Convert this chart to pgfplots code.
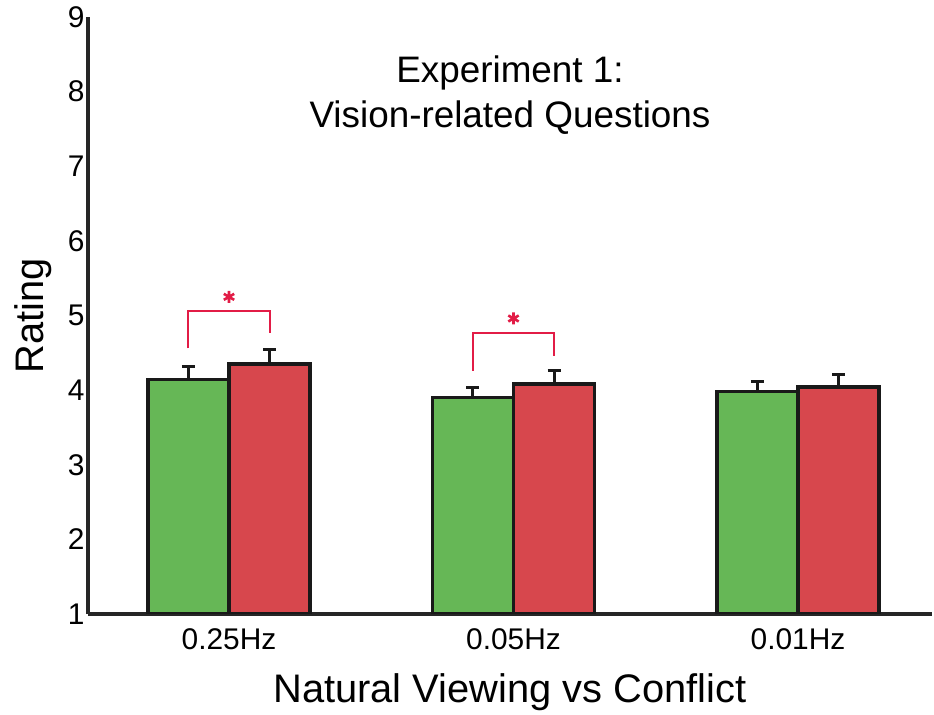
\documentclass[border=0pt]{standalone}
\usepackage{fontspec}
\setmainfont{Liberation Sans}
\usepackage{pgfplots}
\usepackage{pgfplotstable}
\pgfplotsset{compat=1.18}

\definecolor{natgreen}{RGB}{102,183,86}
\definecolor{confred}{RGB}{215,71,77}
\definecolor{sigred}{RGB}{226,28,70}

% mean rating and standard error per frequency
\pgfplotstableread{
x y err
0 4.14 0.18
1 3.90 0.14
2 3.98 0.14
}\natural
\pgfplotstableread{
x y err
0 4.35 0.19
1 4.08 0.18
2 4.04 0.17
}\conflict

\pgfplotsset{
    ratingbar/.style={ybar, bar width=81bp, bar shift=0pt, draw=black!90, line width=3.5bp,
        error bars/.cd, y dir=plus, y explicit,
        error bar style={line width=3bp, black!90},
        error mark options={rotate=90, line width=3bp, mark size=6.5bp, black!90},
        /pgfplots/.cd},
}

\begin{document}
\begin{tikzpicture}
\useasboundingbox (0,0) rectangle (934bp,715bp);
\begin{axis}[
    at={(88bp,101bp)}, anchor=south west,
    scale only axis, width=844bp, height=597bp,
    xmin=-0.4956, xmax=2.471, ymin=1, ymax=9,
    axis x line*=bottom, axis y line*=left,
    axis line style={line width=3bp, black!85},
    xtick={0,1,2}, xticklabels={0.25Hz,0.05Hz,0.01Hz},
    ytick={1,...,9},
    major tick length=0pt,
    tick label style={font=\fontsize{30}{34}\selectfont},
    /pgf/number format/assume math mode=true,
    xticklabel style={yshift=-11bp},
    xlabel={Natural Viewing vs Conflict},
    ylabel={Rating},
    label style={font=\fontsize{40}{46}\selectfont},
    xlabel style={at={(axis description cs:0.5,-0.149)}, anchor=base},
    ylabel style={at={(axis description cs:-0.0533,0.5)}, anchor=base},
]
\addplot[fill=natgreen, ratingbar]
    table[x expr=\thisrow{x}-0.1424, y=y, y error=err] {\natural};
\addplot[fill=confred, ratingbar]
    table[x expr=\thisrow{x}+0.1424, y=y, y error=err] {\conflict};

% significance brackets
\addplot[sigred, line width=2bp] coordinates {(-0.1424,4.56) (-0.1424,5.06) (0.1424,5.06) (0.1424,4.76)};
\addplot[sigred, line width=2bp] coordinates {(0.8576,4.26) (0.8576,4.77) (1.1424,4.77) (1.1424,4.46)};
\addplot[only marks, mark=asterisk, mark size=6bp, sigred, line width=2.6bp] coordinates {(0,5.25) (1,4.96)};

\node[anchor=north, align=center, inner sep=0pt, font=\fontsize{37}{45}\selectfont]
    at (rel axis cs:0.5,0.935) {Experiment 1:\\Vision-related Questions};
\end{axis}
\end{tikzpicture}
\end{document}
